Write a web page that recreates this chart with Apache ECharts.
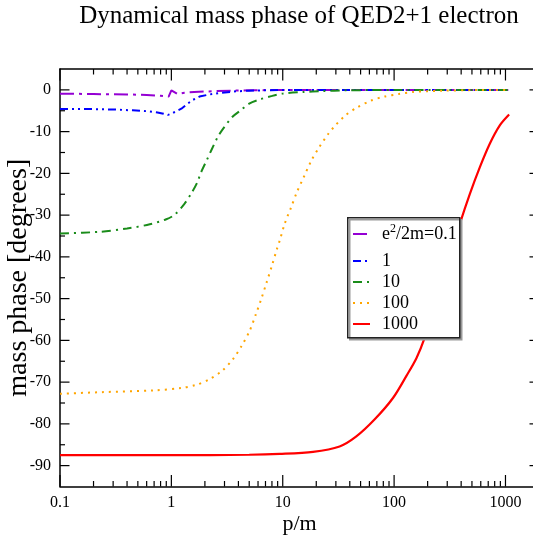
<!DOCTYPE html>
<html>
<head>
<meta charset="utf-8">
<script src="https://cdn.jsdelivr.net/npm/echarts@6/dist/echarts.min.js"></script>
<style>
html,body{margin:0;padding:0;background:#fff;}
#c{width:533px;height:535px;}
</style>
</head>
<body>
<div id="c"></div>
<script>
// ---- data ----
var seriesNames = ['e2/2m=0.1', '1', '10', '100', '1000'];

var p01 = [0.1, 0.2, 0.4, 0.6, 0.8, 0.945, 1.0, 1.14, 1.31, 1.6, 2.0, 2.53, 3.5, 5, 10, 30, 100, 300, 1060];
var v01 = [-0.9, -1.0, -1.1, -1.2, -1.4, -1.6, -0.1, -1.0, -0.7, -0.5, -0.4, -0.3, -0.2, -0.1, 0, 0, 0, 0, 0];

var p1 = [0.1, 0.2, 0.3, 0.45, 0.6, 0.75, 0.85, 0.93, 1.0, 1.07, 1.23, 1.4, 1.56, 1.79, 2.2, 2.8, 3.8, 5, 7, 10, 30, 100, 300, 1060];
var v1 = [-4.6, -4.6, -4.7, -4.9, -5.1, -5.4, -5.7, -6.0, -5.7, -5.3, -4.5, -3.3, -2.4, -1.6, -1.1, -0.7, -0.35, -0.2, -0.1, 0, 0, 0, 0, 0];

var p10 = [0.1, 0.226, 0.4, 0.64, 0.9, 1.07, 1.31, 1.51, 1.70, 1.85, 2.09, 2.29, 2.62, 2.92, 3.52, 4.1, 5.0, 6.2, 7.9, 10, 15.3, 22.6, 37, 60, 100, 300, 1060];
var v10 = [-34.4, -34.0, -33.2, -32.2, -31.0, -29.9, -27.3, -24.8, -22.3, -19.7, -16.7, -14.4, -11.2, -9.3, -6.5, -5.1, -3.3, -2.3, -1.5, -0.9, -0.5, -0.3, -0.1, -0.05, 0, 0, 0];

var p100 = [0.1, 0.236, 0.68, 1.23, 1.65, 2.2, 2.85, 3.57, 4.28, 5.05, 5.71, 6.43, 7.17, 8.0, 8.87, 9.4, 10.4, 11.9, 13.4, 15.5, 18.1, 21.3, 25.7, 28.8, 35.9, 46.6, 61.7, 82, 110, 148, 200, 270, 500, 1060];
var v100 = [-72.8, -72.4, -72.0, -71.4, -70.7, -69.3, -67.3, -64.5, -61.3, -57.7, -53.9, -50.0, -46.1, -42.1, -38.1, -36.1, -32.1, -28.1, -24.5, -20.8, -16.9, -13.7, -10.5, -8.9, -6.3, -4.2, -2.6, -1.6, -1.0, -0.5, -0.3, -0.2, -0.05, 0];

var p1000 = [0.1, 1, 5, 9.4, 18.7, 32.4, 45.8, 67, 97.7, 129, 159, 188, 250, 310, 389, 479, 589, 723, 889, 1078];
var v1000 = [-87.5, -87.5, -87.4, -87.2, -86.7, -85.4, -83.0, -78.9, -73.8, -68.5, -64.2, -59.4, -49.2, -40.8, -32.1, -24.9, -18.5, -12.9, -8.5, -5.9];

var xMajor = [0.1, 1, 10, 100, 1000];
var xMajorLabels = ['0.1', '1', '10', '100', '1000'];
var xMinor = [0.2,0.3,0.4,0.5,0.6,0.7,0.8,0.9, 2,3,4,5,6,7,8,9, 20,30,40,50,60,70,80,90, 200,300,400,500,600,700,800,900, 2000];
var yMajor = [-90, -80, -70, -60, -50, -40, -30, -20, -10, 0];
var yMinor = [-85, -75, -65, -55, -45, -35, -25, -15, -5];

var X_MIN = 0.1, X_MAX = 2000, Y_MIN = -95, Y_MAX = 5;

function zip(a, b) { return a.map(function (x, i) { return [x, b[i]]; }); }

var serif = 'Liberation Serif';
var black = '#000';

// tick marks (kind: 0 x-major, 1 x-minor, 2 y-major, 3 y-minor), placed through the axes' scales
var tickData = []
  .concat(xMajor.map(function (v) { return [v, Y_MIN, 0]; }))
  .concat(xMinor.map(function (v) { return [v, Y_MIN, 1]; }))
  .concat(yMajor.map(function (v) { return [X_MIN, v, 2]; }))
  .concat(yMinor.map(function (v) { return [X_MIN, v, 3]; }));
var tickLen = [11.5, 5.5, 9.5, 5];

function renderTick(params, api) {
  var kind = api.value(2);
  var len = tickLen[kind];
  var st = { stroke: black, lineWidth: 1.2 };
  var a, b;
  if (kind < 2) {
    var x = api.value(0);
    a = api.coord([x, Y_MIN]); b = api.coord([x, Y_MAX]);
    return { type: 'group', children: [
      { type: 'line', shape: { x1: a[0], y1: a[1], x2: a[0], y2: a[1] - len }, style: st },
      { type: 'line', shape: { x1: b[0], y1: b[1], x2: b[0], y2: b[1] + len }, style: st }
    ] };
  } else {
    var y = api.value(1);
    a = api.coord([X_MIN, y]); b = api.coord([X_MAX, y]);
    return { type: 'group', children: [
      { type: 'line', shape: { x1: a[0], y1: a[1], x2: a[0] + len, y2: a[1] }, style: st },
      { type: 'line', shape: { x1: b[0], y1: b[1], x2: b[0] - len, y2: b[1] }, style: st }
    ] };
  }
}

function xAx(pos, labels) {
  return {
    type: 'log', logBase: 10, min: X_MIN, max: X_MAX, position: pos,
    axisLine: { show: true, onZero: false, lineStyle: { color: black, width: 1.5 } },
    axisTick: { show: false },
    axisLabel: labels ? {
      show: true, customValues: xMajor, margin: 8, color: black, fontFamily: serif, fontSize: 16,
      formatter: function (v) { var i = xMajor.findIndex(function (m) { return Math.abs(m - v) / m < 1e-6; }); return i >= 0 ? xMajorLabels[i] : ''; }
    } : { show: false },
    splitLine: { show: false }, minorTick: { show: false }, minorSplitLine: { show: false },
    name: labels ? 'p/m' : '', nameLocation: 'middle', nameGap: 27, nameMoveOverlap: false,
    nameTextStyle: { fontFamily: serif, fontSize: 22, color: black }
  };
}
function yAx(pos, labels) {
  return {
    type: 'value', min: Y_MIN, max: Y_MAX, interval: 5, position: pos,
    axisLine: { show: true, onZero: false, lineStyle: { color: black, width: 1.5 } },
    axisTick: { show: false },
    axisLabel: labels ? { show: true, customValues: yMajor, margin: 9, color: black, fontFamily: serif, fontSize: 16 } : { show: false },
    splitLine: { show: false },
    name: labels ? 'mass phase [degrees]' : '', nameLocation: 'middle', nameGap: 27, nameRotate: 90, nameMoveOverlap: false,
    nameTextStyle: { fontFamily: serif, fontSize: 28, color: black }
  };
}

var colors = ['#9400d3', '#0000ff', '#1a8c1a', '#ffa500', '#ff0000'];
var dashes = [[14, 5, 3, 5], [8, 4, 2, 4, 2, 4], [9, 5, 2, 5], [2, 5], 'solid'];
var datas = [zip(p01, v01), zip(p1, v1), zip(p10, v10), zip(p100, v100), zip(p1000, v1000)];
var smooths = [false, false, 0.3, 0.3, 0.3];

var series = datas.map(function (d, i) {
  return {
    name: seriesNames[i], type: 'line', data: d, symbol: 'none', smooth: smooths[i],
    xAxisIndex: 0, yAxisIndex: 0, z: 2,
    lineStyle: { color: colors[i], width: i === 4 ? 2.2 : 2, type: dashes[i] },
    itemStyle: { color: colors[i] }
  };
});
series.push({
  type: 'custom', name: 'ticks', data: tickData, renderItem: renderTick,
  xAxisIndex: 0, yAxisIndex: 0, clip: false, silent: true, z: 3
});

var legendText = {
  fontFamily: serif, fontSize: 18, color: black,
  rich: {
    b0: { fontFamily: serif, fontSize: 18, color: black, padding: [0, 0, 0, 7] },
    b: { fontFamily: serif, fontSize: 18, color: black },
    sup: { fontFamily: serif, fontSize: 12, color: black, lineHeight: 14, padding: [0, 0, 10, 0] },
    c: { fontFamily: serif, fontSize: 18, color: black, lineHeight: 18, padding: [0, 0, 0, 7] }
  }
};
function legendFmt(n) { return n === 'e2/2m=0.1' ? '{b0|e}{sup|2}{b|/2m=0.1}' : '{c|' + n + '}'; }
function mkLegend(names, top) {
  return {
    show: true, orient: 'vertical', left: 352, top: top, z: 8,
    backgroundColor: 'transparent', borderWidth: 0, padding: 0,
    itemGap: 3, itemWidth: 17, itemHeight: 10,
    itemStyle: { opacity: 0 },
    data: names, formatter: legendFmt, textStyle: legendText
  };
}

var chart = echarts.init(document.getElementById('c'), null, { renderer: 'canvas' });
chart.setOption({
  animation: false,
  backgroundColor: '#fff',
  title: {
    text: 'Dynamical mass phase of QED2+1 electron',
    left: 294, top: -1, textAlign: 'center',
    textStyle: { fontFamily: serif, fontSize: 25, fontWeight: 'normal', color: black }
  },
  grid: { left: 60, top: 69, width: 479, height: 417.5, containLabel: false, outerBoundsMode: 'none' },
  xAxis: [ xAx('bottom', true), xAx('top', false) ],
  yAxis: [ yAx('left', true), yAx('right', false) ],
  graphic: [{
    type: 'rect', left: 347, top: 217, z: 6, silent: true,
    shape: { width: 112, height: 120 },
    style: { fill: '#fff', stroke: '#222', lineWidth: 1.5, shadowColor: '#999', shadowOffsetX: 2, shadowOffsetY: 2, shadowBlur: 0 }
  }],
  legend: [
    mkLegend(seriesNames.slice(0, 1), 223),
    mkLegend(seriesNames.slice(1), 252)
  ],
  series: series
});
</script>
</body>
</html>
